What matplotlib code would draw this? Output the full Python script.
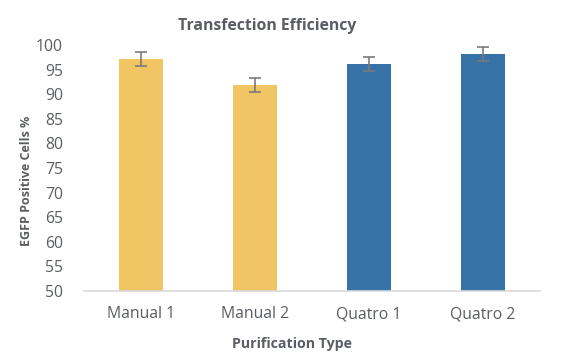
import matplotlib
matplotlib.use("Agg")
import matplotlib.pyplot as plt

# data
categories = ["Manual 1", "Manual 2", "Quatro 1", "Quatro 2"]
values = [97.2, 91.9, 96.2, 98.2]
errors = [1.4, 1.45, 1.4, 1.5]
colors = ["#F1C464", "#F1C464", "#3873A8", "#3873A8"]

plt.rcParams['font.family'] = ['Open Sans', 'DejaVu Sans']
text_grey = "#5A5D62"

fig = plt.figure(figsize=(5.62, 3.64), dpi=100)
ax = fig.add_axes([0.149, 0.2005, 0.812, 0.6755])

x = range(len(categories))
ax.bar(x, values, width=0.39, color=colors, zorder=2)
ax.errorbar(x, values, yerr=errors, fmt='none', ecolor="#7A7A7A",
            elinewidth=1.2, capsize=4, capthick=1.2, zorder=3)

ax.set_ylim(50, 100)
ax.set_xlim(-0.5, 3.5)
ax.set_yticks(range(50, 101, 5))
ax.set_xticks(list(x))
ax.set_xticklabels(categories)

for s in ["top", "right", "left"]:
    ax.spines[s].set_visible(False)
ax.spines["bottom"].set_color("#D9D9D9")
ax.spines["bottom"].set_linewidth(1.2)
ax.tick_params(axis='both', length=0, labelsize=11.3, colors=text_grey)
ax.tick_params(axis='x', pad=11)
ax.tick_params(axis='y', pad=15)

ax.set_title("Transfection Efficiency", fontsize=11.3, fontweight='bold',
             color=text_grey, pad=11, x=0.401)
ax.set_ylabel("EGFP Positive Cells %", fontsize=9, fontweight='bold',
              color=text_grey)
ax.yaxis.set_label_coords(-0.112, 0.447)
ax.set_xlabel("Purification Type", fontsize=10.2, fontweight='bold',
              color=text_grey, labelpad=10)
ax.xaxis.set_label_coords(0.457, -0.185)

fig.savefig("out.png", dpi=100)
